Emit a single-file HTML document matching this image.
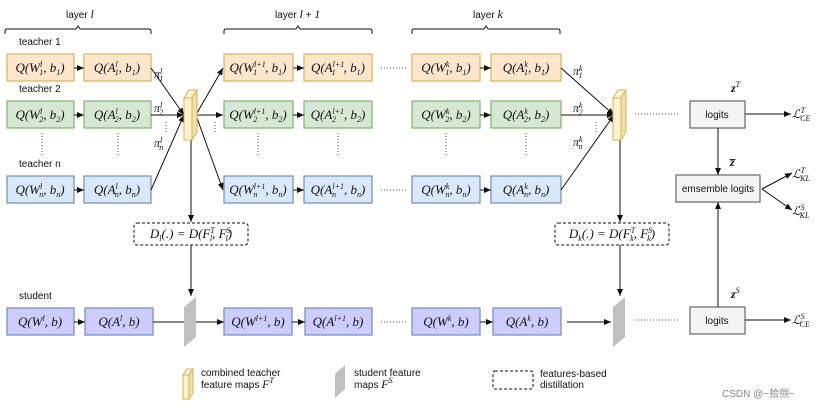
<!DOCTYPE html>
<html><head><meta charset="utf-8"><style>
body{margin:0;background:#fff}
svg{display:block}
.t{font-family:"Liberation Sans",sans-serif;font-size:10px;fill:#111}
.m{font-family:"Liberation Serif",serif;font-style:italic;font-size:12px;fill:#111}
.b{font-size:13px}
.s{font-size:8px}
</style></head><body>
<svg width="829" height="410" viewBox="0 0 829 410" xmlns="http://www.w3.org/2000/svg">
<defs><marker id="a" markerWidth="8" markerHeight="8" refX="7" refY="4" orient="auto" markerUnits="userSpaceOnUse"><path d="M0,1 L7,4 L0,7 z" fill="#111"/></marker></defs>
<g stroke="#111" fill="none" stroke-width="1">
<path d="M5,34 v-3 q0,-2 2,-2 h69 l2,-3 l2,3 h69 q2,0 2,2 v3"/>
<path d="M224,34 v-3 q0,-2 2,-2 h70 l2,-3 l2,3 h70 q2,0 2,2 v3"/>
<path d="M412,34 v-3 q0,-2 2,-2 h70 l2,-3 l2,3 h70 q2,0 2,2 v3"/>
</g>
<text class="t" x="66" y="18">layer <tspan class="m">l</tspan></text>
<text class="t" x="275" y="18">layer <tspan class="m">l</tspan> + <tspan class="m">1</tspan></text>
<text class="t" x="473" y="18">layer <tspan class="m">k</tspan></text>
<text class="t" x="19" y="45">teacher  1</text>
<text class="t" x="19" y="92">teacher  2</text>
<text class="t" x="19" y="167">teacher  n</text>
<text class="t" x="19" y="299">student</text>
<g stroke-width="1.2">
<g fill="#ffe6cc" stroke="#d6b656">
<rect x="7" y="54" width="67" height="27"/><rect x="84" y="54" width="67" height="27"/>
<rect x="224" y="54" width="69" height="27"/><rect x="304" y="54" width="68" height="27"/>
<rect x="412" y="54" width="68" height="27"/><rect x="491" y="54" width="70" height="27"/></g>
<g fill="#d5e8d4" stroke="#82b366">
<rect x="7" y="101" width="67" height="27"/><rect x="84" y="101" width="67" height="27"/>
<rect x="224" y="101" width="69" height="27"/><rect x="304" y="101" width="68" height="27"/>
<rect x="412" y="101" width="68" height="27"/><rect x="491" y="101" width="70" height="27"/></g>
<g fill="#dae8fc" stroke="#6c8ebf">
<rect x="7" y="176" width="67" height="27"/><rect x="84" y="176" width="67" height="27"/>
<rect x="224" y="176" width="69" height="27"/><rect x="304" y="176" width="68" height="27"/>
<rect x="412" y="176" width="68" height="27"/><rect x="491" y="176" width="70" height="27"/></g>
<g fill="#ccccff" stroke="#6c8ebf">
<rect x="7" y="308" width="67" height="27"/><rect x="85" y="308" width="68" height="27"/>
<rect x="224" y="308" width="68" height="27"/><rect x="305" y="308" width="67" height="27"/>
<rect x="412" y="308" width="68" height="27"/><rect x="493" y="308" width="68" height="27"/></g>
<g fill="#f5f5f5" stroke="#666">
<rect x="690" y="101" width="55" height="27"/><rect x="676" y="175" width="84" height="27"/>
<rect x="690" y="307" width="55" height="27"/></g>
</g>
<g class="m b" text-anchor="middle">
<text x="40" y="72">Q(W<tspan class="s" dy="-5">l</tspan><tspan class="s" dx="-3" dy="8">1</tspan><tspan dy="-3">, b</tspan><tspan class="s" dy="3">1</tspan><tspan dy="-3">)</tspan></text>
<text x="117" y="72">Q(A<tspan class="s" dy="-5">l</tspan><tspan class="s" dx="-3" dy="8">1</tspan><tspan dy="-3">, b</tspan><tspan class="s" dy="3">1</tspan><tspan dy="-3">)</tspan></text>
<text x="258" y="72">Q(W<tspan class="s" dy="-5">l+1</tspan><tspan class="s" dx="-12" dy="8">1</tspan><tspan dx="8" dy="-3">, b</tspan><tspan class="s" dy="3">1</tspan><tspan dy="-3">)</tspan></text>
<text x="338" y="72">Q(A<tspan class="s" dy="-5">l+1</tspan><tspan class="s" dx="-12" dy="8">1</tspan><tspan dx="8" dy="-3">, b</tspan><tspan class="s" dy="3">1</tspan><tspan dy="-3">)</tspan></text>
<text x="446" y="72">Q(W<tspan class="s" dy="-5">k</tspan><tspan class="s" dx="-4" dy="8">1</tspan><tspan dy="-3">, b</tspan><tspan class="s" dy="3">1</tspan><tspan dy="-3">)</tspan></text>
<text x="526" y="72">Q(A<tspan class="s" dy="-5">k</tspan><tspan class="s" dx="-4" dy="8">1</tspan><tspan dy="-3">, b</tspan><tspan class="s" dy="3">1</tspan><tspan dy="-3">)</tspan></text>
<text x="40" y="119">Q(W<tspan class="s" dy="-5">l</tspan><tspan class="s" dx="-3" dy="8">2</tspan><tspan dy="-3">, b</tspan><tspan class="s" dy="3">2</tspan><tspan dy="-3">)</tspan></text>
<text x="117" y="119">Q(A<tspan class="s" dy="-5">l</tspan><tspan class="s" dx="-3" dy="8">2</tspan><tspan dy="-3">, b</tspan><tspan class="s" dy="3">2</tspan><tspan dy="-3">)</tspan></text>
<text x="258" y="119">Q(W<tspan class="s" dy="-5">l+1</tspan><tspan class="s" dx="-12" dy="8">2</tspan><tspan dx="8" dy="-3">, b</tspan><tspan class="s" dy="3">2</tspan><tspan dy="-3">)</tspan></text>
<text x="338" y="119">Q(A<tspan class="s" dy="-5">l+1</tspan><tspan class="s" dx="-12" dy="8">2</tspan><tspan dx="8" dy="-3">, b</tspan><tspan class="s" dy="3">2</tspan><tspan dy="-3">)</tspan></text>
<text x="446" y="119">Q(W<tspan class="s" dy="-5">k</tspan><tspan class="s" dx="-4" dy="8">2</tspan><tspan dy="-3">, b</tspan><tspan class="s" dy="3">2</tspan><tspan dy="-3">)</tspan></text>
<text x="526" y="119">Q(A<tspan class="s" dy="-5">k</tspan><tspan class="s" dx="-4" dy="8">2</tspan><tspan dy="-3">, b</tspan><tspan class="s" dy="3">2</tspan><tspan dy="-3">)</tspan></text>
<text x="40" y="194">Q(W<tspan class="s" dy="-5">l</tspan><tspan class="s" dx="-3" dy="8">n</tspan><tspan dy="-3">, b</tspan><tspan class="s" dy="3">n</tspan><tspan dy="-3">)</tspan></text>
<text x="117" y="194">Q(A<tspan class="s" dy="-5">l</tspan><tspan class="s" dx="-3" dy="8">n</tspan><tspan dy="-3">, b</tspan><tspan class="s" dy="3">n</tspan><tspan dy="-3">)</tspan></text>
<text x="258" y="194">Q(W<tspan class="s" dy="-5">l+1</tspan><tspan class="s" dx="-12" dy="8">n</tspan><tspan dx="8" dy="-3">, b</tspan><tspan class="s" dy="3">n</tspan><tspan dy="-3">)</tspan></text>
<text x="338" y="194">Q(A<tspan class="s" dy="-5">l+1</tspan><tspan class="s" dx="-12" dy="8">n</tspan><tspan dx="8" dy="-3">, b</tspan><tspan class="s" dy="3">n</tspan><tspan dy="-3">)</tspan></text>
<text x="446" y="194">Q(W<tspan class="s" dy="-5">k</tspan><tspan class="s" dx="-4" dy="8">n</tspan><tspan dy="-3">, b</tspan><tspan class="s" dy="3">n</tspan><tspan dy="-3">)</tspan></text>
<text x="526" y="194">Q(A<tspan class="s" dy="-5">k</tspan><tspan class="s" dx="-4" dy="8">n</tspan><tspan dy="-3">, b</tspan><tspan class="s" dy="3">n</tspan><tspan dy="-3">)</tspan></text>
<text x="40" y="326">Q(W<tspan class="s" dy="-5">l</tspan><tspan dy="5">, b)</tspan></text>
<text x="119" y="326">Q(A<tspan class="s" dy="-5">l</tspan><tspan dy="5">, b)</tspan></text>
<text x="258" y="326">Q(W<tspan class="s" dy="-5">l+1</tspan><tspan dy="5">, b)</tspan></text>
<text x="338" y="326">Q(A<tspan class="s" dy="-5">l+1</tspan><tspan dy="5">, b)</tspan></text>
<text x="446" y="326">Q(W<tspan class="s" dy="-5">k</tspan><tspan dy="5">, b)</tspan></text>
<text x="527" y="326">Q(A<tspan class="s" dy="-5">k</tspan><tspan dy="5">, b)</tspan></text>
</g>
<g class="t" text-anchor="middle">
<text x="717" y="118">logits</text><text x="718" y="192">emsemble logits</text><text x="717" y="324">logits</text>
</g>
<g stroke="#111" stroke-width="1" fill="none" marker-end="url(#a)">
<line x1="74" y1="68" x2="84" y2="68"/><line x1="74" y1="115" x2="84" y2="115"/><line x1="74" y1="190" x2="84" y2="190"/>
<line x1="293" y1="68" x2="304" y2="68"/><line x1="293" y1="115" x2="304" y2="115"/><line x1="293" y1="190" x2="304" y2="190"/>
<line x1="480" y1="68" x2="491" y2="68"/><line x1="480" y1="115" x2="491" y2="115"/><line x1="480" y1="190" x2="491" y2="190"/>
<line x1="151" y1="68" x2="184" y2="115"/><line x1="151" y1="115" x2="184" y2="115"/><line x1="151" y1="190" x2="184" y2="115"/>
<line x1="561" y1="68" x2="614" y2="115"/><line x1="561" y1="115" x2="614" y2="115"/><line x1="561" y1="190" x2="614" y2="115"/>
<line x1="197" y1="113" x2="223" y2="68"/><line x1="197" y1="115" x2="223" y2="115"/><line x1="197" y1="118" x2="223" y2="190"/>
<line x1="191" y1="137" x2="191" y2="222"/><line x1="191" y1="245" x2="191" y2="296"/>
<line x1="620" y1="137" x2="620" y2="222"/><line x1="620" y1="245" x2="620" y2="296"/>
<line x1="74" y1="322" x2="85" y2="322"/><line x1="292" y1="322" x2="305" y2="322"/><line x1="480" y1="322" x2="493" y2="322"/>
<line x1="196" y1="322" x2="224" y2="322"/><line x1="567" y1="322" x2="611" y2="322"/>
<line x1="718" y1="128" x2="718" y2="175"/><line x1="718" y1="307" x2="718" y2="202"/>
<line x1="745" y1="114" x2="791" y2="114"/><line x1="745" y1="320" x2="791" y2="320"/>
<line x1="762" y1="189" x2="792" y2="173"/><line x1="762" y1="189" x2="792" y2="210"/>
</g>
<line x1="153" y1="322" x2="184" y2="322" stroke="#111"/>
<g stroke="#555" stroke-dasharray="1,2" fill="none">
<line x1="42" y1="133" x2="42" y2="157"/><line x1="118" y1="133" x2="118" y2="157"/>
<line x1="258" y1="133" x2="258" y2="157"/><line x1="338" y1="133" x2="338" y2="157"/>
<line x1="446" y1="133" x2="446" y2="157"/><line x1="526" y1="133" x2="526" y2="157"/>
<line x1="166" y1="122" x2="166" y2="134"/><line x1="596" y1="122" x2="596" y2="134"/><line x1="215" y1="122" x2="215" y2="134"/>
<line x1="381" y1="68" x2="406" y2="68"/><line x1="381" y1="190" x2="406" y2="190"/>
<line x1="381" y1="322" x2="406" y2="322"/><line x1="635" y1="114" x2="680" y2="114"/><line x1="635" y1="320" x2="680" y2="320"/>
</g>
<g class="m" font-size="11">
<text x="154" y="78">π<tspan class="s" dy="-4">l</tspan><tspan class="s" dx="-3" dy="7">1</tspan></text>
<text x="154" y="112">π<tspan class="s" dy="-4">l</tspan><tspan class="s" dx="-3" dy="7">2</tspan></text>
<text x="154" y="147">π<tspan class="s" dy="-4">l</tspan><tspan class="s" dx="-3" dy="7">n</tspan></text>
<text x="573" y="75">π<tspan class="s" dy="-4">k</tspan><tspan class="s" dx="-4" dy="7">1</tspan></text>
<text x="573" y="112">π<tspan class="s" dy="-4">k</tspan><tspan class="s" dx="-4" dy="7">2</tspan></text>
<text x="573" y="146">π<tspan class="s" dy="-4">k</tspan><tspan class="s" dx="-4" dy="7">n</tspan></text>
<text x="731" y="92" font-weight="bold">z<tspan class="s" dy="-5" font-weight="normal">T</tspan></text>
<text x="730" y="166" font-weight="bold">z̅</text>
<text x="731" y="298" font-weight="bold">z<tspan class="s" dy="-5" font-weight="normal">S</tspan></text>
<text x="792" y="118">ℒ<tspan class="s" dy="-5">T</tspan><tspan class="s" dx="-5" dy="8">CE</tspan></text>
<text x="792" y="178">ℒ<tspan class="s" dy="-5">T</tspan><tspan class="s" dx="-5" dy="8">KL</tspan></text>
<text x="792" y="215">ℒ<tspan class="s" dy="-5">S</tspan><tspan class="s" dx="-5" dy="8">KL</tspan></text>
<text x="792" y="324">ℒ<tspan class="s" dy="-5">S</tspan><tspan class="s" dx="-5" dy="8">CE</tspan></text>
</g>
<g stroke="#d6b656" fill="#f3dfa8" stroke-width="1">
<path d="M184,98 l5,-8 h8 l-5,8 z" fill="#fff2cc"/><path d="M192,98 l5,-8 v42 l-5,8 z"/><rect x="184" y="98" width="8" height="42" fill="#fff2cc"/>
<path d="M613,98 l5,-8 h8 l-5,8 z" fill="#fff2cc"/><path d="M621,98 l5,-8 v42 l-5,8 z"/><rect x="613" y="98" width="8" height="42" fill="#fff2cc"/>
<path d="M183,375 l4,-6 h6 l-4,6 z" fill="#fff2cc"/><path d="M189,375 l4,-6 v24 l-4,6 z"/><rect x="183" y="375" width="6" height="24" fill="#fff2cc"/>
</g>
<g fill="#c0c0c0">
<path d="M184,307 l12,-10 v40 l-12,10 z"/><path d="M613,307 l12,-10 v40 l-12,10 z"/>
<path d="M335,374 l10,-9 v24 l-10,9 z"/>
</g>
<g stroke="#111" stroke-dasharray="3,2" fill="#fff">
<rect x="134" y="223" width="114" height="22" rx="3"/><rect x="555" y="223" width="114" height="22" rx="3"/>
<rect x="493" y="371" width="40" height="18" rx="2"/>
</g>
<g class="m b" text-anchor="middle">
<text x="191" y="238">D<tspan class="s" dy="3">l</tspan><tspan dy="-3">(.) = D(F</tspan><tspan class="s" dy="-5">T</tspan><tspan class="s" dx="-5" dy="8">l</tspan><tspan dy="-3">, F</tspan><tspan class="s" dy="-5">S</tspan><tspan class="s" dx="-5" dy="8">l</tspan><tspan dy="-3">)</tspan></text>
<text x="612" y="238">D<tspan class="s" dy="3">k</tspan><tspan dy="-3">(.) = D(F</tspan><tspan class="s" dy="-5">T</tspan><tspan class="s" dx="-5" dy="8">k</tspan><tspan dy="-3">, F</tspan><tspan class="s" dy="-5">S</tspan><tspan class="s" dx="-5" dy="8">k</tspan><tspan dy="-3">)</tspan></text>
</g>
<g class="t" font-size="9">
<text x="201" y="376">combined teacher</text><text x="201" y="388">feature maps <tspan class="m" font-size="11">F<tspan class="s" dy="-5">T</tspan></tspan></text>
<text x="354" y="376">student feature</text><text x="354" y="388">maps <tspan class="m" font-size="11">F<tspan class="s" dy="-5">S</tspan></tspan></text>
<text x="540" y="377">features-based</text><text x="540" y="388">distillation</text>
</g>
<text x="722" y="397" font-family="Liberation Sans,'Noto Sans CJK SC',sans-serif" font-size="10" fill="#888">CSDN @~拾捌~</text>
</svg>
</body></html>
